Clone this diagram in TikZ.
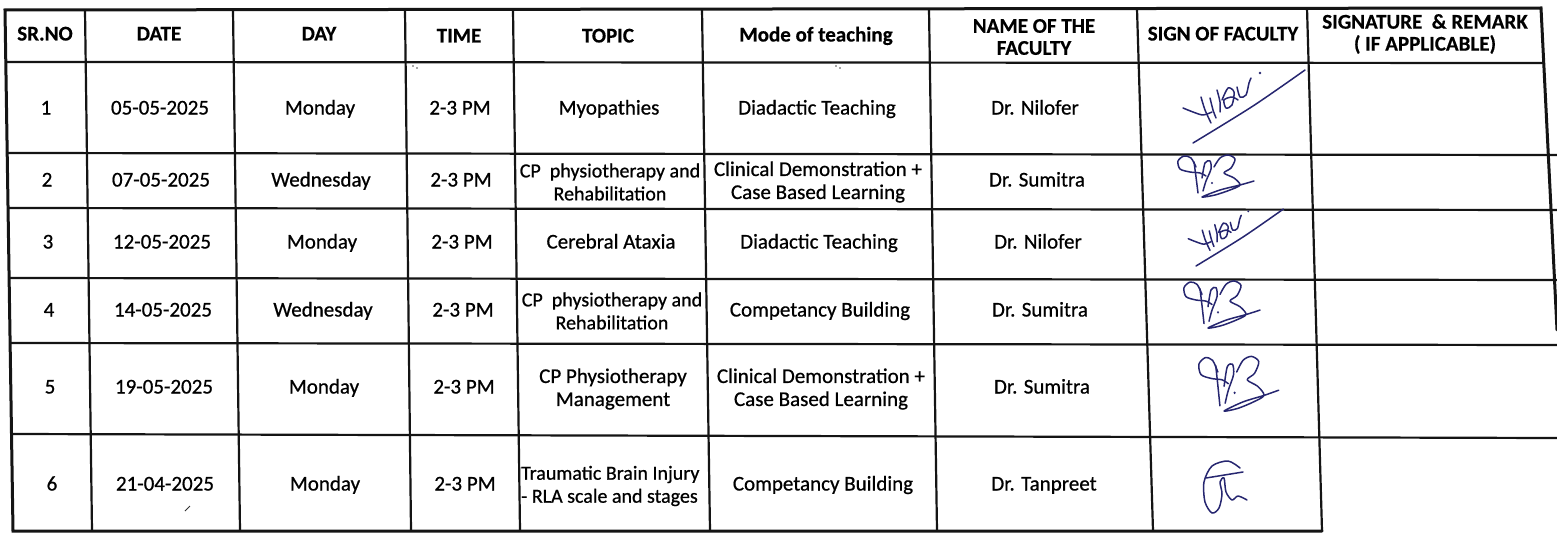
\documentclass[tikz,border=0pt]{standalone}
\usepackage{fontspec}
\setmainfont{Carlito}
\newfontfamily\bodyf{Carlito}[FakeBold=0.7]
\newfontfamily\headf{Carlito Bold}[FakeBold=0.4]
\definecolor{ink}{RGB}{38,38,112}
\definecolor{rule}{RGB}{20,20,20}
\newcommand{\sigNil}{%
  \draw[sig] plot[smooth] coordinates {(-10,-35) (0,-31) (10,-28) (19,-31)};
  \draw[sig] plot[smooth] coordinates {(8,-46) (12,-33) (18,-20)};
  \draw[sig] plot[smooth] coordinates {(17,-45) (20,-33) (23,-25)};
  \draw[sig] plot[smooth] coordinates {(24,-53) (27,-41) (27,-31)};
  \draw[sig] plot[smooth] coordinates {(29,-43) (35,-55) (41,-51) (39,-38) (33,-35) (31,-43) (39,-46) (45,-43)};
  \draw[sig] plot[smooth] coordinates {(44,-56) (47,-46) (53,-48) (56,-60) (58,-65)};
  \fill[ink] (67,-70) circle (1.3);
  \draw[sig] plot[smooth] coordinates {(0,0) (60,-37) (112,-73)};
}
\newcommand{\sigSum}{%
  \draw[sig] plot[smooth] coordinates {(-4,-30) (-9,-39) (-16,-41) (-22,-36) (-20,-28) (-10,-25) (0,-24) (6,-21)};
  \draw[sig] plot[smooth] coordinates {(-6,-35) (-4,-20) (-2,-4)};
  \draw[sig] plot[smooth] coordinates {(2,-19) (5,-34) (10,-36) (11,-28) (6,-16) (3,-6)};
  \draw[sig] plot[smooth] coordinates {(14,-30) (20,-39) (28,-42) (35,-38) (31,-29) (24,-24) (34,-19) (40,-12) (30,-7) (15,-2) (2,0) (20,-7) (40,-12) (54,-16)};
  \fill[ink] (12,-14) circle (1.1);
}
\begin{document}
\begin{tikzpicture}[x=1pt,y=-1pt,
  grid/.style={line width=2.2pt, draw=rule},
  outer/.style={line width=3pt, draw=rule, line cap=round},
  hd/.style={font=\fontsize{21}{22}\selectfont\headf, align=center, inner sep=0pt},
  bd/.style={font=\fontsize{21}{23}\selectfont\bodyf, align=center, inner sep=0pt},
  tight/.style={font=\fontsize{20}{23}\selectfont\bodyf},
  one/.style={text height=13.5pt, text depth=4.5pt},
  sig/.style={line width=1.5pt, draw=ink, line cap=round, line join=round},
  speck/.style={fill=black!70}]
\useasboundingbox[fill=white] (0,0) rectangle (1557,535);
% ---- grid coordinates
\coordinate (L0) at (5,10);   \coordinate (L1) at (13,531);
\coordinate (R0) at (1541,8); \coordinate (R1) at (1557,330);
\coordinate (a0) at (85,10);  \coordinate (a1) at (92,531);
\coordinate (b0) at (233,10); \coordinate (b1) at (240,531);
\coordinate (c0) at (405,10); \coordinate (c1) at (411,531);
\coordinate (d0) at (513,10); \coordinate (d1) at (520,531);
\coordinate (e0) at (702,9);  \coordinate (e1) at (710,531);
\coordinate (f0) at (929,9);  \coordinate (f1) at (937,531);
\coordinate (g0) at (1137,9); \coordinate (g1) at (1153,531);
\coordinate (k0) at (1307,8); \coordinate (k1) at (1322,531);
\coordinate (h1l) at (6,62);   \coordinate (h1r) at (1544,63);
\coordinate (h2l) at (7,153);  \coordinate (h2r) at (1557,155);
\coordinate (h3l) at (8,208);  \coordinate (h3r) at (1557,210);
\coordinate (h4l) at (10,278); \coordinate (h4r) at (1557,280);
\coordinate (h5l) at (11,343); \coordinate (h5r) at (1557,345);
\coordinate (h6l) at (12,434); \coordinate (h6r) at (1557,438);
% ---- rules
\foreach \p in {a,b,c,d,e,f,g,k} \draw[grid] (\p0) -- (\p1);
\foreach \p in {h1,h2,h3,h4,h5,h6} \draw[grid] (\p l) -- (\p r);
\draw[outer] (R1) -- (R0) -- (L0) -- (L1) -- (k1);
% ---- header
\node[hd,one] (hsr)   at (45,36)   {SR.NO};
\node[hd,one] (hdate) at (159,36)  {DATE};
\node[hd,one] (hday)  at (319,36)  {DAY};
\node[hd,one] (htime) at (459,38)  {TIME};
\node[hd,one] (htop)  at (608,38)  {TOPIC};
\node[hd,one] (hmode) at (816,37)  {Mode of teaching};
\node[hd]     (hname) at (1034,37) {NAME OF THE\\FACULTY};
\node[hd,one] (hsign) at (1223,36) {SIGN OF FACULTY};
\node[hd]     (hrem)  at (1425,34) {SIGNATURE\ \ \&\ REMARK\\( IF APPLICABLE)};
% ---- row 1
\node[bd,one] (r1a) at (46,110)   {1};
\node[bd,one] (r1b) at (160,110)  {05-05-2025};
\node[bd,one] (r1c) at (320,110)  {Monday};
\node[bd,one] (r1d) at (460,110)  {2-3 PM};
\node[bd,one] (r1e) at (609,110)  {Myopathies};
\node[bd,one] (r1f) at (817,110)  {Diadactic Teaching};
\node[bd,one] (r1g) at (1035,110) {Dr. Nilofer};
% ---- row 2
\node[bd,one] (r2a) at (47,182)   {2};
\node[bd,one] (r2b) at (161,182)  {07-05-2025};
\node[bd,one] (r2c) at (321,182)  {Wednesday};
\node[bd,one] (r2d) at (461,182)  {2-3 PM};
\node[bd,tight] (r2e) at (610,182)  {CP\ \ physiotherapy and\\Rehabilitation};
\node[bd]     (r2f) at (818,182)  {Clinical Demonstration +\\Case Based Learning};
\node[bd,one] (r2g) at (1037,182) {Dr. Sumitra};
% ---- row 3
\node[bd,one] (r3a) at (48,244)   {3};
\node[bd,one] (r3b) at (162,244)  {12-05-2025};
\node[bd,one] (r3c) at (322,244)  {Monday};
\node[bd,one] (r3d) at (462,244)  {2-3 PM};
\node[bd,one] (r3e) at (611,244)  {Cerebral Ataxia};
\node[bd,one] (r3f) at (819,244)  {Diadactic Teaching};
\node[bd,one] (r3g) at (1038,244) {Dr. Nilofer};
% ---- row 4
\node[bd,one] (r4a) at (49,312)   {4};
\node[bd,one] (r4b) at (163,312)  {14-05-2025};
\node[bd,one] (r4c) at (323,312)  {Wednesday};
\node[bd,one] (r4d) at (463,312)  {2-3 PM};
\node[bd,tight] (r4e) at (612,311)  {CP\ \ physiotherapy and\\Rehabilitation};
\node[bd,one] (r4f) at (820,312)  {Competancy Building};
\node[bd,one] (r4g) at (1040,312) {Dr. Sumitra};
% ---- row 5
\node[bd,one] (r5a) at (50,389)   {5};
\node[bd,one] (r5b) at (164,389)  {19-05-2025};
\node[bd,one] (r5c) at (324,389)  {Monday};
\node[bd,one] (r5d) at (464,389)  {2-3 PM};
\node[bd]     (r5e) at (613,389)  {CP Physiotherapy\\Management};
\node[bd]     (r5f) at (821,389)  {Clinical Demonstration +\\Case Based Learning};
\node[bd,one] (r5g) at (1042,389) {Dr. Sumitra};
% ---- row 6
\node[bd,tight,align=left,anchor=west] (r6e) at (521,486) {Traumatic Brain Injury\\- RLA scale and stages};
\node[bd,one] (r6a) at (52,486)   {6};
\node[bd,one] (r6b) at (165,486)  {21-04-2025};
\node[bd,one] (r6c) at (325,486)  {Monday};
\node[bd,one] (r6d) at (465,486)  {2-3 PM};
\node[bd,one] (r6f) at (823,486)  {Competancy Building};
\node[bd,one] (r6g) at (1044,486) {Dr. Tanpreet};
% ---- signatures
\begin{scope}[shift={(1193,143)}] \sigNil \end{scope}
\begin{scope}[shift={(1196,266)},scale=0.78] \sigNil \end{scope}
\begin{scope}[shift={(1200,197)}] \sigSum \end{scope}
\begin{scope}[shift={(1206,328)},xscale=1.0,yscale=1.12] \sigSum \end{scope}
\begin{scope}[shift={(1222,411)},xscale=1.05,yscale=1.3] \sigSum \end{scope}
\draw[sig] plot[smooth] coordinates {(1240,468) (1228,461) (1212,466) (1204,482) (1205,502) (1212,513) (1219,508) (1222,494) (1220,482) (1224,478) (1226,492) (1232,500) (1238,496) (1247,500)};
\draw[sig] (1206,478) -- (1243,472);
% ---- specks
\fill[speck] (413,66) circle (0.9); \fill[speck] (417,68) circle (0.9);
\fill[speck] (836,66) circle (0.9); \fill[speck] (840,68) circle (0.9);
\draw[line width=1pt, black!80] (185,511) -- (190,506);
\end{tikzpicture}
\end{document}
